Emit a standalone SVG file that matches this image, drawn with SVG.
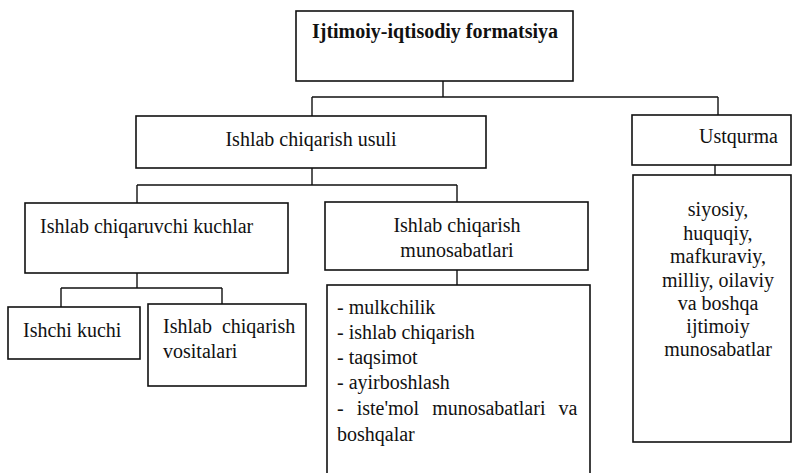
<svg xmlns="http://www.w3.org/2000/svg" width="792" height="473" viewBox="0 0 792 473">
<style>
.box{fill:#fff;stroke:#111;stroke-width:1.6}
.ln{fill:none;stroke:#111;stroke-width:1.4}
text{font-size:20px;fill:#111}
.c{text-anchor:middle}
.b{font-weight:bold}
</style>
<rect width="792" height="473" fill="#fff"/>
<g id="connectors">
<path class="ln" d="M443 81V97M312 97H718M312 97V116M718 97V115"/>
<path class="ln" d="M312 168V185M137 185H457M137 185V203M457 185V202"/>
<path class="ln" d="M137 273V288M61 288H222M61 288V307M222 288V304"/>
<path class="ln" d="M457 270V285"/>
<path class="ln" d="M715 165V175"/>
</g>
<g font-family="Liberation Serif, Tinos, DejaVu Serif, Times New Roman, serif">
<g id="n-formatsiya">
<rect class="box" x="296" y="11" width="277" height="70"/>
<text class="c b" x="435" y="38">Ijtimoiy-iqtisodiy formatsiya</text>
</g>
<g id="n-usuli">
<rect class="box" x="136" y="116" width="350" height="52"/>
<text class="c" x="311" y="146">Ishlab chiqarish usuli</text>
</g>
<g id="n-ustqurma">
<rect class="box" x="632" y="115" width="159" height="50"/>
<text x="699" y="143">Ustqurma</text>
</g>
<g id="n-kuchlar">
<rect class="box" x="25" y="203" width="263" height="70"/>
<text x="40" y="233">Ishlab chiqaruvchi kuchlar</text>
</g>
<g id="n-munosabatlari">
<rect class="box" x="325" y="202" width="263" height="68"/>
<text class="c" x="457" y="232">Ishlab chiqarish</text>
<text class="c" x="457" y="257">munosabatlari</text>
</g>
<g id="n-ustqurma-list">
<rect class="box" x="633" y="175" width="158" height="267"/>
<text class="c" x="718" y="216">siyosiy,</text>
<text class="c" x="718" y="240">huquqiy,</text>
<text class="c" x="718" y="263">mafkuraviy,</text>
<text class="c" x="718" y="287">milliy, oilaviy</text>
<text class="c" x="718" y="310">va boshqa</text>
<text class="c" x="718" y="333">ijtimoiy</text>
<text class="c" x="718" y="356">munosabatlar</text>
</g>
<g id="n-ishchi">
<rect class="box" x="8" y="307" width="132" height="52"/>
<text x="23" y="337">Ishchi kuchi</text>
</g>
<g id="n-vositalari">
<rect class="box" x="148" y="304" width="158" height="82"/>
<text x="163" y="333" word-spacing="5">Ishlab chiqarish</text>
<text x="163" y="358">vositalari</text>
</g>
<g id="n-list">
<rect class="box" x="327" y="285" width="263" height="200"/>
<text x="337" y="314">- mulkchilik</text>
<text x="337" y="339">- ishlab chiqarish</text>
<text x="337" y="364">- taqsimot</text>
<text x="337" y="389">- ayirboshlash</text>
<text x="337" y="415" word-spacing="8">- iste'mol munosabatlari va</text>
<text x="337" y="441">boshqalar</text>
</g>
</g>
</svg>
